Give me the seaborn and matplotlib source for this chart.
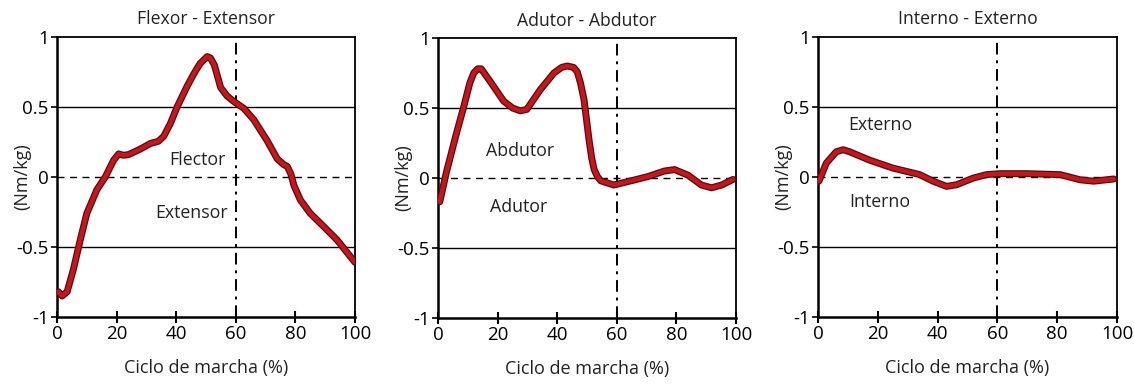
import matplotlib
matplotlib.use("Agg")
import matplotlib.pyplot as plt
import seaborn as sns
import pandas as pd

sns.set_theme(style="white")
plt.rcParams['font.family'] = ['Open Sans', 'DejaVu Sans']

# ---- data ----
titles = ["Flexor - Extensor", "Adutor - Abdutor", "Interno - Externo"]

x_flex = [0.5, 1.7, 3.4, 5.5, 7.8, 10, 11.8, 13.4, 16.2, 19, 20.7, 22.3, 24, 28, 31.4, 34, 35.8,
          38, 40.3, 43.7, 46, 48, 50.4, 51.5, 52.8, 54.9, 57, 59.3, 62.7, 66, 70.5, 73.9, 76,
          77.3, 78.5, 79.5, 81.7, 85, 89.6, 94, 100]
y_flex = [-0.82, -0.85, -0.82, -0.66, -0.45, -0.26, -0.17, -0.09, 0.0, 0.12, 0.165, 0.155, 0.16,
          0.2, 0.24, 0.255, 0.29, 0.38, 0.50, 0.65, 0.74, 0.81, 0.86, 0.85, 0.80, 0.64, 0.58,
          0.54, 0.49, 0.41, 0.26, 0.13, 0.09, 0.075, 0.02, -0.06, -0.165, -0.26, -0.356, -0.45,
          -0.61]

x_abd = [0.6, 2.8, 6.2, 8.4, 10.7, 12, 13.3, 14.5, 17.5, 22, 25, 27.6, 29.8, 34.3, 38.9, 41.5,
         43.4, 45.5, 46.7, 47.8, 49, 50.7, 51.6, 52.4, 53.5, 54.6, 59, 64.8, 70.4, 76, 79.4,
         83.9, 88.4, 91.8, 95.2, 99]
y_abd = [-0.17, 0.04, 0.32, 0.49, 0.68, 0.75, 0.78, 0.78, 0.69, 0.55, 0.50, 0.48, 0.49, 0.63,
         0.75, 0.79, 0.80, 0.79, 0.76, 0.68, 0.56, 0.27, 0.14, 0.06, 0.01, -0.02, -0.05, -0.02,
         0.01, 0.05, 0.06, 0.02, -0.05, -0.07, -0.05, -0.01]

x_rot = [0.3, 2.8, 6.1, 8.4, 10.6, 17.3, 25, 34, 38.5, 43, 46.4, 52, 56.4, 60.9, 69.8, 81,
         87.7, 92.2, 98.9]
y_rot = [-0.03, 0.1, 0.18, 0.195, 0.18, 0.12, 0.064, 0.017, -0.03, -0.067, -0.055, -0.007,
         0.017, 0.024, 0.024, 0.017, -0.02, -0.03, -0.014]

region_labels = [
    [("Flector", 47, 0.12), ("Extensor", 45, -0.26)],
    [("Abdutor", 27.6, 0.19), ("Adutor", 27, -0.21)],
    [("Externo", 21, 0.37), ("Interno", 20.7, -0.18)],
]

xticks = [0, 20, 40, 60, 80, 100]
yticks = [-1, -0.5, 0, 0.5, 1]
ytick_labels = ["-1", "-0.5", "0", "0.5", "1"]

series = [(x_flex, y_flex), (x_abd, y_abd), (x_rot, y_rot)]

W, H = 1134, 385
fig = plt.figure(figsize=(W / 100, H / 100), dpi=100)
boxes = [(57, 355, 37, 317), (438, 736, 38, 318), (818, 1117, 37, 317)]

for i, (xs, ys) in enumerate(series):
    l, r, t, b = boxes[i]
    ax = fig.add_axes([l / W, 1 - b / H, (r - l) / W, (b - t) / H])
    df = pd.DataFrame({"x": xs, "y": ys})
    for yy in (0.5, -0.5):
        ax.axhline(yy, color="black", lw=1.0, zorder=1)
    ax.axhline(0, color="black", lw=1.0, ls=(0, (5, 4)), zorder=1)
    ax.axvline(60, color="black", lw=1.4, ls=(0, (6, 3, 1.5, 3)), zorder=1)
    sns.lineplot(data=df, x="x", y="y", ax=ax, color="#5c0a0a", lw=5.0,
                 solid_capstyle="round", solid_joinstyle="round", zorder=3, estimator=None, sort=False)
    sns.lineplot(data=df, x="x", y="y", ax=ax, color="#c4161c", lw=3.2,
                 solid_capstyle="round", solid_joinstyle="round", zorder=4, estimator=None, sort=False)
    for txt, tx, ty in region_labels[i]:
        ax.text(tx, ty, txt, ha="center", va="center", fontsize=12.8, color="#222222")
    ax.set_xlim(0, 100)
    ax.set_ylim(-1, 1)
    ax.set_xticks(xticks)
    ax.set_yticks(yticks)
    ax.set_yticklabels(ytick_labels)
    ax.tick_params(axis="x", direction="inout", length=8, width=1.5, labelsize=13.5, pad=2,
                   bottom=True, colors="black")
    ax.tick_params(axis="y", direction="out", length=4, width=1.2, labelsize=13.5, pad=2,
                   left=True, colors="black")
    ax.set_xlabel("Ciclo de marcha (%)", fontsize=13, color="#222222")
    ax.set_ylabel("(Nm/kg)", fontsize=13, color="#222222")
    ax.xaxis.set_label_coords(0.5, -0.15)
    ax.yaxis.set_label_coords(-0.085, 0.5)
    ax.set_title(titles[i], fontsize=12.7, color="#222222", y=1.0, pad=9)
    for side in ("left", "bottom"):
        ax.spines[side].set_linewidth(1.8)
        ax.spines[side].set_color("black")
    for side in ("top", "right"):
        ax.spines[side].set_linewidth(1.3)
        ax.spines[side].set_color("black")
    ax.set_facecolor("white")

fig.savefig("out.png", dpi=100, facecolor="white")
